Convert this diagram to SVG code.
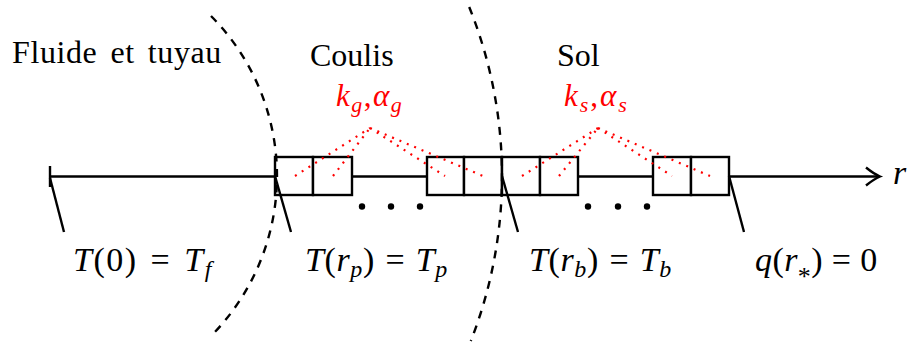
<svg xmlns="http://www.w3.org/2000/svg" width="907" height="346" viewBox="0 0 907 346">
<defs>
<path id="arrowhead" d="M-14,-9 Q-6,-2.5 0,0 Q-6,2.5 -14,9" fill="none" stroke="#000" stroke-width="2.4"/>
</defs>
<rect width="907" height="346" fill="#fff"/>
<g id="axis" stroke="#000" stroke-width="2.4" fill="none">
<line x1="50" y1="176.5" x2="879" y2="176.5"/>
<line x1="50" y1="166" x2="50" y2="187"/>
<use href="#arrowhead" x="880" y="176.5"/>
</g>
<g id="cells-coulis" stroke="#000" stroke-width="2.4" fill="#fff">
<rect x="275" y="157" width="38" height="38"/>
<rect x="313" y="157" width="39" height="38"/>
<rect x="427" y="157" width="37" height="38"/>
<rect x="464" y="157" width="38" height="38"/>
</g>
<g id="cells-sol" stroke="#000" stroke-width="2.4" fill="#fff">
<rect x="502" y="157" width="38" height="38"/>
<rect x="540" y="157" width="38" height="38"/>
<rect x="653" y="157" width="38" height="38"/>
<rect x="691" y="157" width="38" height="38"/>
</g>
<g id="ellipsis" fill="#000">
<circle cx="362" cy="206.5" r="3.2"/><circle cx="391" cy="206.5" r="3.2"/><circle cx="420" cy="206.5" r="3.2"/>
<circle cx="588" cy="206.5" r="3.2"/><circle cx="618" cy="206.5" r="3.2"/><circle cx="647" cy="206.5" r="3.2"/>
</g>
<g id="connectors">
<g stroke="#ff0000" stroke-width="2.2" fill="none" stroke-dasharray="2 6">
<path d="M295,176 L370,128 M333,176 L370,128 M370,128 L445,176 M370,128 L483,176"/>
<path d="M522,176 L598,128 M559,176 L598,128 M598,128 L672,176 M598,128 L710,176"/>
</g>
<g stroke="#000" stroke-width="2.4">
<line x1="50" y1="178" x2="64" y2="232"/>
<line x1="275" y1="176" x2="291" y2="232"/>
<line x1="502" y1="176" x2="518" y2="232"/>
<line x1="729" y1="176" x2="744" y2="232"/>
</g>
</g>
<g id="boundaries" stroke="#000" stroke-width="2.4" fill="none" stroke-dasharray="8 7.5">
<path d="M211,16 A227,227 0 0 1 211,336"/>
<path d="M469.2,7 A452,452 0 0 1 470.8,341"/>
</g>
<g id="label-r"><text font-family="'Liberation Serif', serif" font-size="34" font-style="italic" x="893" y="184">r</text></g>
<g id="label-fluide"><text font-family="'Liberation Serif', serif" font-size="32" letter-spacing="0.6" word-spacing="4.5" x="12" y="63">Fluide et tuyau</text></g>
<g id="label-coulis"><text font-family="'Liberation Serif', serif" font-size="32" x="310" y="66">Coulis</text></g>
<g id="label-sol"><text font-family="'Liberation Serif', serif" font-size="32" x="557" y="66">Sol</text></g>
<g id="props-coulis"><text font-family="'Liberation Serif', serif" font-size="31" fill="#ff0000" font-style="italic" letter-spacing="1.5" x="336" y="106">k<tspan font-size="22" dy="6">g</tspan><tspan font-style="normal" dy="-6">,</tspan>α<tspan font-size="22" dy="6">g</tspan></text></g>
<g id="props-sol"><text font-family="'Liberation Serif', serif" font-size="31" fill="#ff0000" font-style="italic" letter-spacing="2" x="564" y="106">k<tspan font-size="22" dy="6">s</tspan><tspan font-style="normal" dy="-6">,</tspan>α<tspan font-size="22" dy="6">s</tspan></text></g>
<g id="bc-fluide"><text font-family="'Liberation Serif', serif" font-size="34" letter-spacing="1.5" word-spacing="3" x="73" y="271"><tspan font-style="italic">T</tspan>(0) = <tspan font-style="italic">T</tspan><tspan font-style="italic" font-size="24" dy="6">f</tspan></text></g>
<g id="bc-coulis"><text font-family="'Liberation Serif', serif" font-size="34" letter-spacing="0.6" word-spacing="1.5" x="305" y="271"><tspan font-style="italic">T</tspan>(<tspan font-style="italic">r</tspan><tspan font-style="italic" font-size="24" dy="6">p</tspan><tspan dy="-6">) = </tspan><tspan font-style="italic">T</tspan><tspan font-style="italic" font-size="24" dy="6">p</tspan></text></g>
<g id="bc-sol"><text font-family="'Liberation Serif', serif" font-size="34" letter-spacing="0.6" word-spacing="1.5" x="529" y="271"><tspan font-style="italic">T</tspan>(<tspan font-style="italic">r</tspan><tspan font-style="italic" font-size="24" dy="6">b</tspan><tspan dy="-6">) = </tspan><tspan font-style="italic">T</tspan><tspan font-style="italic" font-size="24" dy="6">b</tspan></text></g>
<g id="bc-far"><text font-family="'Liberation Serif', serif" font-size="34" letter-spacing="0.4" x="755" y="271"><tspan font-style="italic">q</tspan>(<tspan font-style="italic">r</tspan><tspan font-size="26" dy="14">*</tspan><tspan dy="-14">) = 0</tspan></text></g>
</svg>
